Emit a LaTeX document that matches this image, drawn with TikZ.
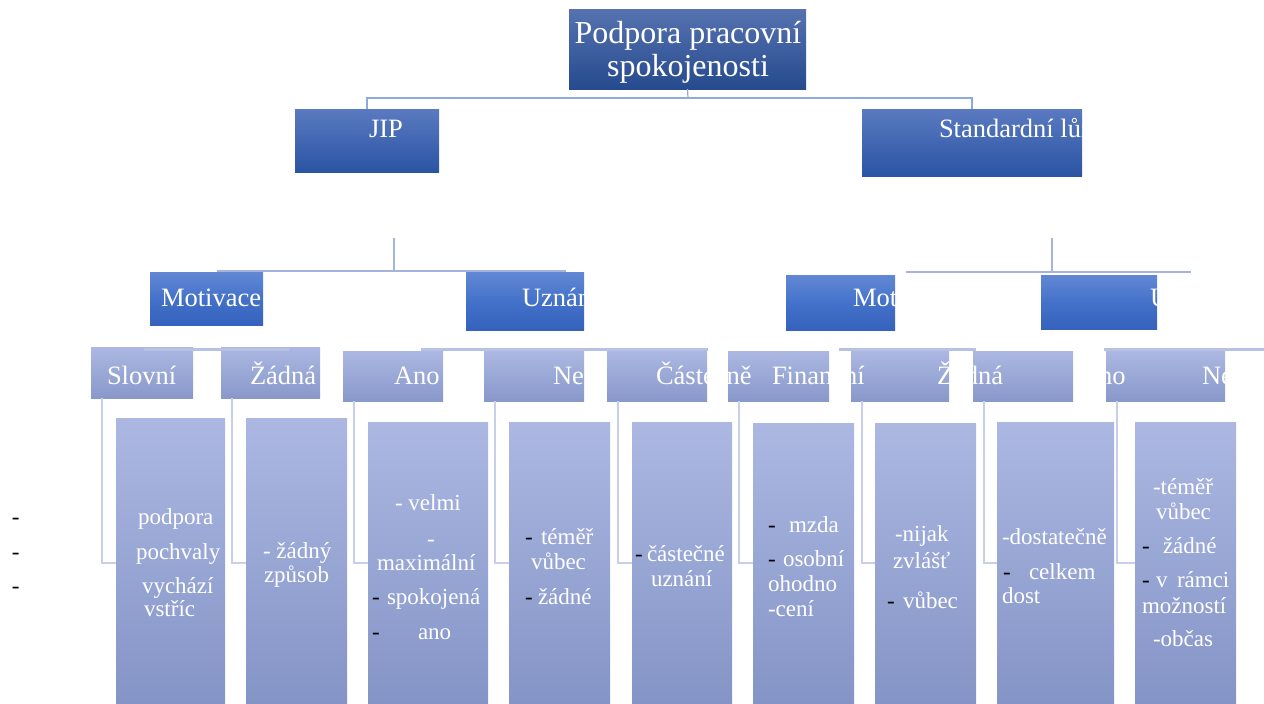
\documentclass[tikz,border=0pt]{standalone}
\usepackage{fontspec}
\setmainfont{Liberation Serif}
\definecolor{topT}{RGB}{86,114,176}
\definecolor{topB}{RGB}{38,74,142}
\definecolor{lAT}{RGB}{90,122,192}
\definecolor{lAB}{RGB}{42,84,164}
\definecolor{lBT}{RGB}{98,136,212}
\definecolor{lBM}{RGB}{68,114,202}
\definecolor{lBB}{RGB}{52,98,188}
\definecolor{lCT}{RGB}{172,184,226}
\definecolor{lCB}{RGB}{136,152,202}
\definecolor{lDT}{RGB}{172,184,226}
\definecolor{lDB}{RGB}{132,148,198}
\definecolor{cnA}{RGB}{142,170,219}
\definecolor{cnB}{RGB}{166,180,220}
\definecolor{cnC}{RGB}{182,193,228}
\definecolor{cnD}{RGB}{200,207,234}
% box: style, name, x1, y1, x2, y2 (pixel grid, y downwards)
\newcommand\diagbox[6]{\node[#1,minimum width={(#5-#3)*1pt},minimum height={(#6-#4)*1pt}] (#2) at (#3,#4) {};}
\begin{document}
\begin{tikzpicture}[x=1pt,y=-1pt,
  box/.style={inner sep=0pt,outer sep=0pt,anchor=north west,draw=none},
  boxtop/.style={box,top color=topT,bottom color=topB},
  boxA/.style={box,top color=lAT,bottom color=lAB},
  boxB/.style={box,top color=lBT,bottom color=lBB,middle color=lBM},
  boxC/.style={box,top color=lCT,bottom color=lCB},
  boxD/.style={box,top color=lDT,bottom color=lDB},
  conA/.style={draw=cnA,line width=1.2pt},
  conB/.style={draw=cnB,line width=2.6pt},
  conC/.style={draw=cnC,line width=3pt},
  conD/.style={draw=cnD,line width=1.1pt},
  txt/.style={inner sep=0pt,outer sep=0pt,anchor=base west,text=white},
  ttop/.style={txt,anchor=base,font=\fontsize{32}{36}\selectfont},
  tbig/.style={txt,font=\fontsize{26.5}{30}\selectfont},
  tsm/.style={txt,font=\fontsize{23}{27}\selectfont},
  blk/.style={tsm,text=black},
]
\useasboundingbox (0,0) rectangle (1264,704);

% ---- boxes
\diagbox{boxtop}{top}{569}{9}{806}{89}
\diagbox{boxA}{jip}{295}{109}{439}{172}
\diagbox{boxA}{std}{862}{109}{1082}{176}

\diagbox{boxB}{mot1}{150}{272}{263}{325}
\diagbox{boxB}{uzn1}{466}{272}{584}{330}
\diagbox{boxB}{mot2}{786}{275}{895}{330}
\diagbox{boxB}{uzn2}{1041}{275}{1157}{329}

\diagbox{boxC}{s1}{91}{347}{193}{398}
\diagbox{boxC}{s2}{221}{347}{320}{398}
\diagbox{boxC}{s3}{343}{351}{443}{401}
\diagbox{boxC}{s4}{484}{351}{584}{401}
\diagbox{boxC}{s5}{607}{351}{707}{401}
\diagbox{boxC}{s6}{728}{351}{829}{401}
\diagbox{boxC}{s7}{851}{351}{949}{401}
\diagbox{boxC}{s8}{973}{351}{1073}{401}
\diagbox{boxC}{s9}{1106}{351}{1225}{401}

\diagbox{boxD}{b1}{116}{418}{225}{704}
\diagbox{boxD}{b2}{246}{418}{347}{704}
\diagbox{boxD}{b3}{368}{422}{488}{704}
\diagbox{boxD}{b4}{509}{422}{610}{704}
\diagbox{boxD}{b5}{632}{422}{732}{704}
\diagbox{boxD}{b6}{753}{423}{854}{704}
\diagbox{boxD}{b7}{875}{423}{976}{704}
\diagbox{boxD}{b8}{997}{422}{1114}{704}
\diagbox{boxD}{b9}{1135}{422}{1236}{704}

% ---- connectors
\coordinate (hub) at (688,98);
\draw[conA] (top.south) -- (hub);
\draw[conA] (jip.north) |- (hub) -| (std.north);

\coordinate (jA) at (394,238);
\coordinate (jB) at (394,271);
\coordinate (jL) at (217,271);
\coordinate (jR) at (566,271);
\draw[conB] (jA) -- (jB);
\draw[conB] (jL) -- (jR);
\coordinate (kA) at (1052,238);
\coordinate (kB) at (1052,272);
\coordinate (kL) at (906,272);
\coordinate (kR) at (1191,272);
\draw[conB] (kA) -- (kB);
\draw[conB] (kL) -- (kR);

\coordinate (m1a) at (144,349);  \coordinate (m1b) at (289,349);
\coordinate (m2a) at (421,349);  \coordinate (m2b) at (708,349);
\coordinate (m3a) at (839,349);  \coordinate (m3b) at (976,349);
\coordinate (m4a) at (1104,349); \coordinate (m4b) at (1264,349);
\draw[conC] (m1a) -- (m1b);
\draw[conC] (m2a) -- (m2b);
\draw[conC] (m3a) -- (m3b);
\draw[conC] (m4a) -- (m4b);

\coordinate (lv) at (0,563);
\foreach \s/\b in {s1/b1,s2/b2,s3/b3,s4/b4,s5/b5,s6/b6,s7/b7,s8/b8,s9/b9}
  \draw[conD] ([xshift=11pt]\s.south west) |- (\b.west |- lv);

% ---- white labels, visible only on the boxes
\begin{scope}
\clip (top.north west) rectangle (top.south east)
      (jip.north west) rectangle (jip.south east)
      (std.north west) rectangle (std.south east)
      (mot1.north west) rectangle (mot1.south east)
      (uzn1.north west) rectangle (uzn1.south east)
      (mot2.north west) rectangle (mot2.south east)
      (uzn2.north west) rectangle (uzn2.south east)
      (s1.north west) rectangle (s1.south east)
      (s2.north west) rectangle (s2.south east)
      (s3.north west) rectangle (s3.south east)
      (s4.north west) rectangle (s4.south east)
      (s5.north west) rectangle (s5.south east)
      (s6.north west) rectangle (s6.south east)
      (s7.north west) rectangle (s7.south east)
      (s8.north west) rectangle (s8.south east)
      (s9.north west) rectangle (s9.south east)
      (b1.north west) rectangle (b1.south east)
      (b2.north west) rectangle (b2.south east)
      (b3.north west) rectangle (b3.south east)
      (b4.north west) rectangle (b4.south east)
      (b5.north west) rectangle (b5.south east)
      (b6.north west) rectangle (b6.south east)
      (b7.north west) rectangle (b7.south east)
      (b8.north west) rectangle (b8.south east)
      (b9.north west) rectangle (b9.south east);

\node[ttop] (h1) at (688,43) {Podpora pracovní};
\node[ttop] (h2) at (688,76) {spokojenosti};

\node[tbig] (tjip) at (369,137) {JIP};
\node[tbig] (tstd) at (939,137) {Standardní lůžka};

\node[tbig] (tm1) at (161,306) {Motivace};
\node[tbig] (tu1) at (522,306) {Uznání};
\node[tbig] (tm2) at (853,306) {Motivace};
\node[tbig] (tu2) at (1150,306) {Uznání};

\node[tbig] (ts1) at (107,384) {Slovní};
\node[tbig] (ts2) at (250,384) {Žádná};
\node[tbig] (ts3) at (394,384) {Ano};
\node[tbig] (ts4) at (553,384) {Ne};
\node[tbig] (ts5) at (656,384) {Částečně};
\node[tbig] (ts6) at (772,384) {Finanční};
\node[tbig] (ts7) at (937,384) {Žádná};
\node[tbig] (ts8) at (1080,384) {Ano};
\node[tbig] (ts9) at (1202,384) {Ne};

% box 1
\node[tsm] (p1a) at (138,524) {podpora};
\node[tsm] (p1b) at (136,559) {pochvaly};
\node[tsm] (p1c) at (142,593) {vychází};
\node[tsm] (p1d) at (144,616) {vstříc};
% box 2
\node[tsm] (p2a) at (263,558) {- žádný};
\node[tsm] (p2b) at (264,582) {způsob};
% box 3
\node[tsm] (p3a) at (395,510) {- velmi};
\node[tsm] (p3b) at (427,546) {-};
\node[tsm] (p3c) at (377,570) {maximální};
\node[tsm] (p3d) at (387,604) {spokojená};
\node[tsm] (p3e) at (418,639) {ano};
% box 4
\node[tsm] (p4a) at (541,544) {téměř};
\node[tsm] (p4b) at (531,569) {vůbec};
\node[tsm] (p4c) at (538,604) {žádné};
% box 5
\node[tsm] (p5a) at (647,561) {částečné};
\node[tsm] (p5b) at (651,586) {uznání};
% box 6
\node[tsm] (p6a) at (789,532) {mzda};
\node[tsm] (p6b) at (783,566) {osobní};
\node[tsm] (p6c) at (768,591) {ohodno};
\node[tsm] (p6d) at (768,616) {-cení};
% box 7
\node[tsm] (p7a) at (895,541) {-nijak};
\node[tsm] (p7b) at (893,568) {zvlášť};
\node[tsm] (p7c) at (903,608) {vůbec};
% box 8
\node[tsm] (p8a) at (1002,544) {-dostatečně};
\node[tsm] (p8b) at (1029,579) {celkem};
\node[tsm] (p8c) at (1002,603) {dost};
% box 9
\node[tsm] (p9a) at (1153,494) {-téměř};
\node[tsm] (p9b) at (1156,519) {vůbec};
\node[tsm] (p9c) at (1163,553) {žádné};
\node[tsm] (p9d) at (1156,587) {v};
\node[tsm] (p9e) at (1177,587) {rámci};
\node[tsm] (p9f) at (1142,613) {možností};
\node[tsm] (p9g) at (1153,646) {-občas};
\end{scope}

% ---- black list dashes
\node[blk] (k1) at (12,524) {-};
\node[blk] (k2) at (12,559) {-};
\node[blk] (k3) at (12,593) {-};
\node[blk] (k4) at (372,604) {-};
\node[blk] (k5) at (372,639) {-};
\node[blk] (k6) at (525,544) {-};
\node[blk] (k7) at (525,604) {-};
\node[blk] (k8) at (635,561) {-};
\node[blk] (k9) at (768,532) {-};
\node[blk] (k10) at (768,566) {-};
\node[blk] (k11) at (887,608) {-};
\node[blk] (k12) at (1003,579) {-};
\node[blk] (k13) at (1142,553) {-};
\node[blk] (k14) at (1142,587) {-};
\end{tikzpicture}
\end{document}
